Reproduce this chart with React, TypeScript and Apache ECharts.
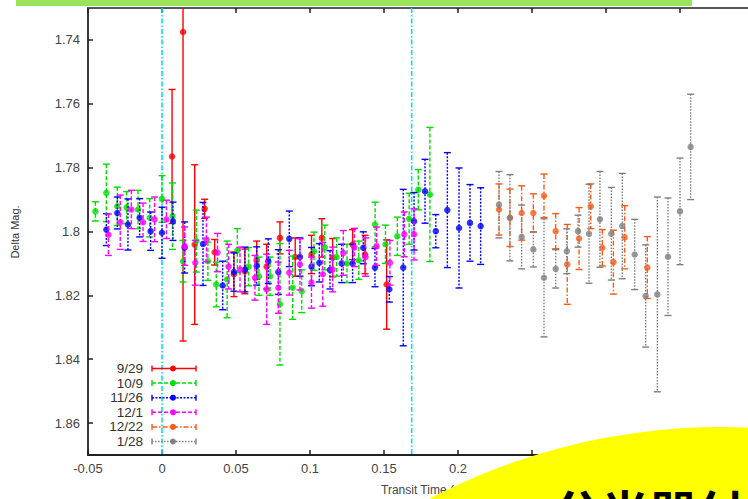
import React, { useEffect, useRef } from "react";
import * as echarts from "echarts";

const seriesNames = ["9/29", "10/9", "11/26", "12/1", "12/22", "1/28"];
const seriesColors = ["#ff0000", "#00dd00", "#0000ff", "#ff00ff", "#ff5a14", "#808080"];
const seriesDashes: (number[] | null)[] = [null, [4, 2], [2, 1.5], [4, 2], [5, 2, 1.5, 2], [1.5, 1.5]];

// tick labels visible in the reference (the rest are hidden under the yellow badge)
const xTicks = [-0.05, 0, 0.05, 0.1, 0.15, 0.2];
const yTicks = [1.74, 1.76, 1.78, 1.8, 1.82, 1.84, 1.86];
const transitLines = [0, 0.1687];

// [transit time, delta mag, error]
const d0929 = [
  [0.0068, 1.7765, 0.021], [0.0142, 1.7375, 0.0968], [0.0221, 1.8041, 0.025],
  [0.0288, 1.7929, 0.003], [0.0356, 1.8065, 0.004], [0.0486, 1.8134, 0.007],
  [0.056, 1.8125, 0.007], [0.064, 1.809, 0.006], [0.0707, 1.811, 0.007],
  [0.0797, 1.802, 0.005], [0.09, 1.808, 0.006], [0.101, 1.8072, 0.006],
  [0.108, 1.802, 0.006], [0.1153, 1.8082, 0.006], [0.1288, 1.8041, 0.0047],
  [0.1372, 1.8072, 0.006], [0.1518, 1.8166, 0.014],
];
const d1009 = [
  [-0.045, 1.7937, 0.003], [-0.0376, 1.7879, 0.009], [-0.0302, 1.7921, 0.006],
  [-0.0239, 1.7925, 0.005], [-0.0162, 1.7931, 0.006], [-0.0083, 1.7957, 0.006],
  [0.0, 1.7898, 0.0073], [0.0071, 1.7952, 0.0104], [0.0142, 1.8093, 0.0065],
  [0.0232, 1.803, 0.0097], [0.031, 1.8093, 0.006], [0.0367, 1.8166, 0.007],
  [0.044, 1.815, 0.012], [0.0509, 1.806, 0.0069], [0.0585, 1.811, 0.006],
  [0.0655, 1.814, 0.006], [0.073, 1.814, 0.006], [0.0797, 1.8228, 0.019],
  [0.0883, 1.8176, 0.0099], [0.0944, 1.8187, 0.0067], [0.1027, 1.8062, 0.006],
  [0.11, 1.805, 0.007], [0.118, 1.808, 0.006], [0.125, 1.81, 0.006],
  [0.133, 1.809, 0.006], [0.144, 1.7978, 0.007], [0.151, 1.804, 0.006],
  [0.159, 1.8015, 0.006], [0.167, 1.796, 0.008], [0.1732, 1.7869, 0.0063],
  [0.181, 1.7884, 0.021],
];
const d1126 = [
  [-0.0376, 1.7994, 0.005], [-0.0302, 1.7942, 0.005], [-0.023, 1.7978, 0.008],
  [-0.0151, 1.7957, 0.006], [-0.0077, 1.7999, 0.006], [0.0, 1.8004, 0.008],
  [0.0074, 1.7968, 0.006], [0.0153, 1.805, 0.008], [0.0277, 1.8039, 0.013],
  [0.041, 1.8169, 0.0076], [0.0486, 1.8127, 0.006], [0.056, 1.8119, 0.007],
  [0.064, 1.8108, 0.006], [0.0718, 1.8093, 0.007], [0.0786, 1.8127, 0.007],
  [0.086, 1.8023, 0.0087], [0.0932, 1.808, 0.006], [0.101, 1.811, 0.006],
  [0.1063, 1.8098, 0.006], [0.1135, 1.812, 0.006], [0.1214, 1.81, 0.006],
  [0.1288, 1.81, 0.006], [0.136, 1.8051, 0.005], [0.1439, 1.8113, 0.006],
  [0.1536, 1.8181, 0.004], [0.163, 1.8113, 0.0245], [0.1703, 1.7968, 0.009],
  [0.1777, 1.7874, 0.01], [0.185, 1.7999, 0.0052], [0.1928, 1.7933, 0.018],
  [0.2007, 1.7989, 0.0188], [0.2081, 1.7973, 0.012], [0.2153, 1.7983, 0.012],
];
const d1201 = [
  [-0.0362, 1.801, 0.0065], [-0.0282, 1.7971, 0.0085], [-0.0207, 1.7931, 0.006],
  [-0.0128, 1.7971, 0.006], [-0.005, 1.7962, 0.007], [0.003, 1.7962, 0.006],
  [0.0153, 1.8046, 0.006], [0.0225, 1.8098, 0.007], [0.03, 1.8025, 0.007],
  [0.0375, 1.8066, 0.006], [0.045, 1.811, 0.007], [0.0527, 1.8119, 0.007],
  [0.0628, 1.8145, 0.007], [0.0707, 1.8181, 0.011], [0.0786, 1.8176, 0.008],
  [0.086, 1.8129, 0.007], [0.0932, 1.8103, 0.008], [0.101, 1.816, 0.008],
  [0.1086, 1.8134, 0.01], [0.1153, 1.8119, 0.007], [0.1225, 1.8067, 0.007],
  [0.13, 1.805, 0.006], [0.1375, 1.808, 0.006], [0.145, 1.8046, 0.006],
  [0.154, 1.8098, 0.007], [0.1637, 1.8009, 0.007], [0.1703, 1.8009, 0.008],
];
const d1222 = [
  [0.2277, 1.7931, 0.008], [0.2351, 1.7957, 0.009], [0.243, 1.7942, 0.0085],
  [0.2509, 1.7942, 0.006], [0.2581, 1.7888, 0.0068], [0.266, 1.7999, 0.0055],
  [0.2738, 1.8103, 0.0125], [0.2818, 1.8022, 0.0097], [0.2897, 1.7921, 0.007],
  [0.2975, 1.8051, 0.0057], [0.305, 1.8096, 0.01], [0.3126, 1.8018, 0.0099],
  [0.3279, 1.8113, 0.0097],
];
const d0128 = [
  [0.2277, 1.7916, 0.0104], [0.2351, 1.7957, 0.0135], [0.243, 1.8017, 0.01],
  [0.2509, 1.8056, 0.0055], [0.2581, 1.8145, 0.0185], [0.266, 1.8117, 0.006],
  [0.2735, 1.8062, 0.007], [0.2811, 1.7999, 0.005], [0.2885, 1.8007, 0.0155],
  [0.2959, 1.7962, 0.015], [0.3036, 1.8007, 0.0145], [0.311, 1.7983, 0.0165],
  [0.3194, 1.8072, 0.011], [0.3268, 1.8202, 0.016], [0.3347, 1.8197, 0.0305],
  [0.3419, 1.8079, 0.0184], [0.35, 1.7937, 0.0167], [0.3572, 1.7735, 0.0165],
];
const allData = [d0929, d1009, d1126, d1201, d1222, d0128];

const FONT = "'Liberation Sans', Arial, sans-serif";

export default function App() {
  const ref = useRef<HTMLDivElement>(null);
  useEffect(() => {
    const chart = echarts.init(ref.current!, null, { renderer: "svg" });

    const errRender = (color: string, dash: number[] | null) => (params: any, api: any) => {
      const x = api.value(0);
      const y = api.value(1);
      const e = api.value(2);
      const cs = params.coordSys;
      const p1 = api.coord([x, y - e]);
      const p2 = api.coord([x, y + e]);
      const rawTop = Math.min(p1[1], p2[1]);
      const rawBot = Math.max(p1[1], p2[1]);
      const top = Math.max(rawTop, cs.y);
      const bot = Math.min(rawBot, cs.y + cs.height);
      const px = p1[0];
      const style: any = { stroke: color, lineWidth: 1.4, fill: null };
      if (dash) style.lineDash = dash;
      const capStyle = { stroke: color, lineWidth: 1.4, fill: null };
      const children: any[] = [
        { type: "line", shape: { x1: px, y1: top, x2: px, y2: bot }, style },
      ];
      if (rawTop >= cs.y) children.push({ type: "line", shape: { x1: px - 3.5, y1: rawTop, x2: px + 3.5, y2: rawTop }, style: capStyle });
      if (rawBot <= cs.y + cs.height) children.push({ type: "line", shape: { x1: px - 3.5, y1: rawBot, x2: px + 3.5, y2: rawBot }, style: capStyle });
      return { type: "group", children };
    };

    const series: any[] = [
      {
        type: "custom",
        name: "transit",
        data: transitLines.map((v) => [v]),
        encode: { x: 0 },
        z: 1,
        silent: true,
        renderItem: (params: any, api: any) => {
          const cs = params.coordSys;
          const p = api.coord([api.value(0), 1.8]);
          return {
            type: "line",
            shape: { x1: p[0], y1: cs.y, x2: p[0], y2: cs.y + cs.height },
            style: { stroke: "#00e0f0", lineWidth: 1.6, lineDash: [5, 2, 1.5, 2] },
          };
        },
      },
    ];
    allData.forEach((d, i) => {
      series.push({
        type: "custom",
        name: seriesNames[i] + " err",
        data: d,
        encode: { x: 0, y: 1 },
        z: 3 + i * 2,
        silent: true,
        renderItem: errRender(seriesColors[i], seriesDashes[i]),
      });
      series.push({
        type: "scatter",
        name: seriesNames[i],
        data: d.map((r) => [r[0], r[1]]),
        symbol: "circle",
        symbolSize: 6.5,
        itemStyle: { color: seriesColors[i] },
        z: 4 + i * 2,
        silent: true,
      });
    });

    const graphics: any[] = [
      { type: "rect", shape: { x: 16, y: 0, width: 676, height: 6 }, style: { fill: "#9be35a" }, z: 50 },
      {
        type: "text", x: 15, y: 232, rotation: Math.PI / 2,
        style: { text: "Delta Mag.", align: "center", verticalAlign: "middle", fontSize: 11, fill: "#333", fontFamily: FONT },
      },
      {
        type: "text", x: 381, y: 490,
        style: { text: "Transit Time (day)", align: "left", verticalAlign: "middle", fontSize: 12, fill: "#444", fontFamily: FONT },
      },
    ];
    seriesNames.forEach((n, i) => {
      const y = 368.5 + 14.6 * i;
      const c = seriesColors[i];
      const ls: any = { stroke: c, lineWidth: 1.5, fill: null };
      if (seriesDashes[i]) ls.lineDash = seriesDashes[i];
      graphics.push(
        { type: "text", x: 143, y, z: 30, style: { text: n, align: "right", verticalAlign: "middle", fontSize: 13.5, fill: "#333", fontFamily: FONT } },
        { type: "line", z: 30, shape: { x1: 152, y1: y, x2: 196, y2: y }, style: ls },
        { type: "line", z: 30, shape: { x1: 152, y1: y - 3, x2: 152, y2: y + 3 }, style: { stroke: c, lineWidth: 1.4 } },
        { type: "line", z: 30, shape: { x1: 196, y1: y - 3, x2: 196, y2: y + 3 }, style: { stroke: c, lineWidth: 1.4 } },
        { type: "circle", z: 30, shape: { cx: 173, cy: y, r: 3 }, style: { fill: c } }
      );
    });
    graphics.push(
      { type: "circle", z: 100, shape: { cx: 722, cy: 1059, r: 632 }, style: { fill: "#ffff00" } },
      {
        type: "text", x: 553, y: 486, z: 101,
        style: { text: "分光器付", align: "left", verticalAlign: "top", fontSize: 48, fontWeight: "bold", fill: "#000", fontFamily: "'Noto Sans CJK JP', sans-serif" },
      }
    );

    const labelStyle = { color: "#444", fontSize: 13, fontFamily: FONT };
    chart.setOption({
      animation: false,
      backgroundColor: "#ffffff",
      grid: { left: 88, top: 8, right: -6, bottom: 44, outerBoundsMode: "none", containLabel: false },
      xAxis: [
        {
          type: "value", min: -0.05, max: 0.4, interval: 0.05, position: "bottom",
          splitLine: { show: false },
          axisLine: { show: true, onZero: false, lineStyle: { color: "#222", width: 1.8 } },
          axisTick: { show: true, inside: true, length: 5, lineStyle: { color: "#222", width: 1.5 } },
          axisLabel: { ...labelStyle, margin: 7, customValues: xTicks, formatter: (v: number) => String(+v.toFixed(2)) },
        },
        {
          type: "value", min: -0.05, max: 0.4, interval: 0.05, position: "top",
          splitLine: { show: false },
          axisLine: { show: true, onZero: false, lineStyle: { color: "#555", width: 2 } },
          axisTick: { show: true, inside: true, length: 5, lineStyle: { color: "#222", width: 1.5 } },
          axisLabel: { show: false },
        },
      ],
      yAxis: [
        {
          type: "value", min: 1.73, max: 1.87, inverse: true, position: "left",
          splitLine: { show: false },
          axisLine: { show: true, onZero: false, lineStyle: { color: "#222", width: 1.8 } },
          axisTick: { show: true, inside: true, length: 5, customValues: yTicks, lineStyle: { color: "#222", width: 1.5 } },
          axisLabel: { ...labelStyle, margin: 8, customValues: yTicks, formatter: (v: number) => String(+v.toFixed(2)) },
        },
        {
          type: "value", min: 1.73, max: 1.87, inverse: true, position: "right",
          splitLine: { show: false },
          axisLine: { show: true, onZero: false, lineStyle: { color: "#222", width: 1.8 } },
          axisTick: { show: true, inside: true, length: 6, customValues: yTicks, lineStyle: { color: "#222", width: 1.5 } },
          axisLabel: { show: false },
        },
      ],
      series,
      graphic: { elements: graphics },
    });
    return () => chart.dispose();
  }, []);
  return <div ref={ref} style={{ width: 748, height: 499, position: "fixed", left: 0, top: 0 }} />;
}
